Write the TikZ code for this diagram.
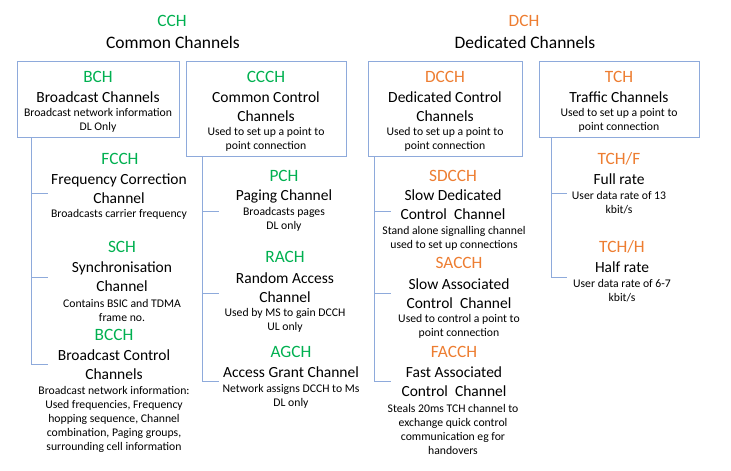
\documentclass[tikz,border=0pt]{standalone}
\usepackage{fontspec}
\setmainfont{Carlito}
\usepackage{tikz}

\definecolor{cgreen}{HTML}{00B050}
\definecolor{dorange}{HTML}{ED7D31}
\definecolor{boxblue}{HTML}{8EAADB}

\tikzset{
  acr/.style={inner sep=0pt, font=\fontsize{17.3}{21}\selectfont},
  cacr/.style={acr, text=cgreen},
  dacr/.style={acr, text=dorange},
  title/.style={inner sep=0pt, font=\fontsize{17.5}{21}\selectfont},
  head/.style={inner sep=0pt, align=center, font=\fontsize{15.5}{19}\selectfont},
  desc/.style={inner sep=0pt, align=center, font=\fontsize{11.7}{14}\selectfont},
  chbox/.style={draw=boxblue, line width=0.9pt, inner sep=0pt},
  tree/.style={draw=boxblue, line width=0.9pt}
}

\begin{document}
\begin{tikzpicture}[x=1pt, y=-1pt]

  \useasboundingbox (0,0) rectangle (731,471);

  % titles
  \node[cacr]  (cch)     at (172,21) {CCH};
  \node[title] (cchname) at (173,42) {Common Channels};
  \node[dacr]  (dch)     at (524,21) {DCH};
  \node[title] (dchname) at (525,42) {Dedicated Channels};

  % boxes
  \node[chbox, minimum width=162pt, minimum height=76pt] (bch)  at (98,99)    {};
  \node[chbox, minimum width=160pt, minimum height=95pt] (ccch) at (266,108.5) {};
  \node[chbox, minimum width=154pt, minimum height=95pt] (dcch) at (445,108.5) {};
  \node[chbox, minimum width=160pt, minimum height=76pt] (tch)  at (619,99)    {};

  \node[cacr] (bchacr)  at (98,77)  {BCH};
  \node[head] (bchhead) at (98,97)  {Broadcast Channels};
  \node[desc] (bchdesc) at (98,120) {Broadcast network information\\DL Only};

  \node[cacr] (ccchacr)  at (266,77)    {CCCH};
  \node[head] (ccchhead) at (266,106.5) {Common Control\\Channels};
  \node[desc] (ccchdesc) at (266,139)   {Used to set up a point to\\point connection};

  \node[dacr] (dcchacr)  at (445,77)    {DCCH};
  \node[head] (dcchhead) at (445,106.5) {Dedicated Control\\Channels};
  \node[desc] (dcchdesc) at (445,139)   {Used to set up a point to\\point connection};

  \node[dacr] (tchacr)  at (619,77)  {TCH};
  \node[head] (tchhead) at (619,97)  {Traffic Channels};
  \node[desc] (tchdesc) at (619,120) {Used to set up a point to\\point connection};

  % broadcast channels
  \node[cacr] (fcch)     at (120,159)   {FCCH};
  \node[head] (fcchhead) at (119,188.5) {Frequency Correction\\Channel};
  \node[desc] (fcchdesc) at (119,214)   {Broadcasts carrier frequency};

  \node[cacr] (sch)     at (122,247)   {SCH};
  \node[head] (schhead) at (122,276.5) {Synchronisation\\Channel};
  \node[desc] (schdesc) at (122,310)   {Contains BSIC and TDMA\\frame no.};

  \node[cacr] (bcch)     at (114,335) {BCCH};
  \node[head] (bcchhead) at (114,365) {Broadcast Control\\Channels};
  \node[desc] (bcchdesc) at (114,419) {Broadcast network information:\\Used frequencies, Frequency\\hopping sequence, Channel\\combination, Paging groups,\\surrounding cell information};

  % common control channels
  \node[cacr] (pch)     at (284,176) {PCH};
  \node[head] (pchhead) at (284,196) {Paging Channel};
  \node[desc] (pchdesc) at (284,219) {Broadcasts pages\\DL only};

  \node[cacr] (rach)     at (285,257) {RACH};
  \node[head] (rachhead) at (285,288) {Random Access\\Channel};
  \node[desc] (rachdesc) at (285,320) {Used by MS to gain DCCH\\UL only};

  \node[cacr] (agch)     at (291,352) {AGCH};
  \node[head] (agchhead) at (291,372) {Access Grant Channel};
  \node[desc] (agchdesc) at (291,396) {Network assigns DCCH to Ms\\DL only};

  % dedicated control channels
  \node[dacr] (sdcch)     at (453,176)   {SDCCH};
  \node[head] (sdcchhead) at (453,205)   {Slow Dedicated\\Control~~Channel};
  \node[desc] (sdcchdesc) at (454,238.5) {Stand alone signalling channel\\used to set up connections};

  \node[dacr] (sacch)     at (459,263)   {SACCH};
  \node[head] (sacchhead) at (459,293.5) {Slow Associated\\Control~~Channel};
  \node[desc] (sacchdesc) at (459,326)   {Used to control a point to\\point connection};

  \node[dacr] (facch)     at (454,352)   {FACCH};
  \node[head] (facchhead) at (454,381.5) {Fast Associated\\Control~~Channel};
  \node[desc] (facchdesc) at (453,429)   {Steals 20ms TCH channel to\\exchange quick control\\communication eg for\\handovers};

  % traffic channels
  \node[dacr] (tchf)     at (619,159)   {TCH/F};
  \node[head] (tchfhead) at (619,179)   {Full rate};
  \node[desc] (tchfdesc) at (619,202.5) {User data rate of 13\\kbit/s};

  \node[dacr] (tchh)     at (622,247)   {TCH/H};
  \node[head] (tchhhead) at (622,267)   {Half rate};
  \node[desc] (tchhdesc) at (622,290.5) {User data rate of 6-7\\kbit/s};

  % trees
  \coordinate (bx) at (31,0);
  \coordinate (cx) at (202,0);
  \coordinate (dx) at (374,0);
  \coordinate (tx) at (551,0);

  \coordinate (b1) at (48,193);
  \coordinate (b2) at (48,277);
  \coordinate (b3) at (48,364);
  \coordinate (c1) at (219,211);
  \coordinate (c2) at (219,293);
  \coordinate (c3) at (219,381);
  \coordinate (d1) at (391,211);
  \coordinate (d2) at (391,293);
  \coordinate (d3) at (391,381);
  \coordinate (t1) at (567,193);
  \coordinate (t2) at (567,277);

  \draw[tree] (bch.south -| bx) |- (b3);
  \draw[tree] (ccch.south -| cx) |- (c3);
  \draw[tree] (dcch.south -| dx) |- (d3);
  \draw[tree] (tch.south -| tx) |- (t2);

  \draw[tree] (b1 -| bx) -- (b1);
  \draw[tree] (b2 -| bx) -- (b2);
  \draw[tree] (c1 -| cx) -- (c1);
  \draw[tree] (c2 -| cx) -- (c2);
  \draw[tree] (d1 -| dx) -- (d1);
  \draw[tree] (d2 -| dx) -- (d2);
  \draw[tree] (t1 -| tx) -- (t1);

\end{tikzpicture}
\end{document}
